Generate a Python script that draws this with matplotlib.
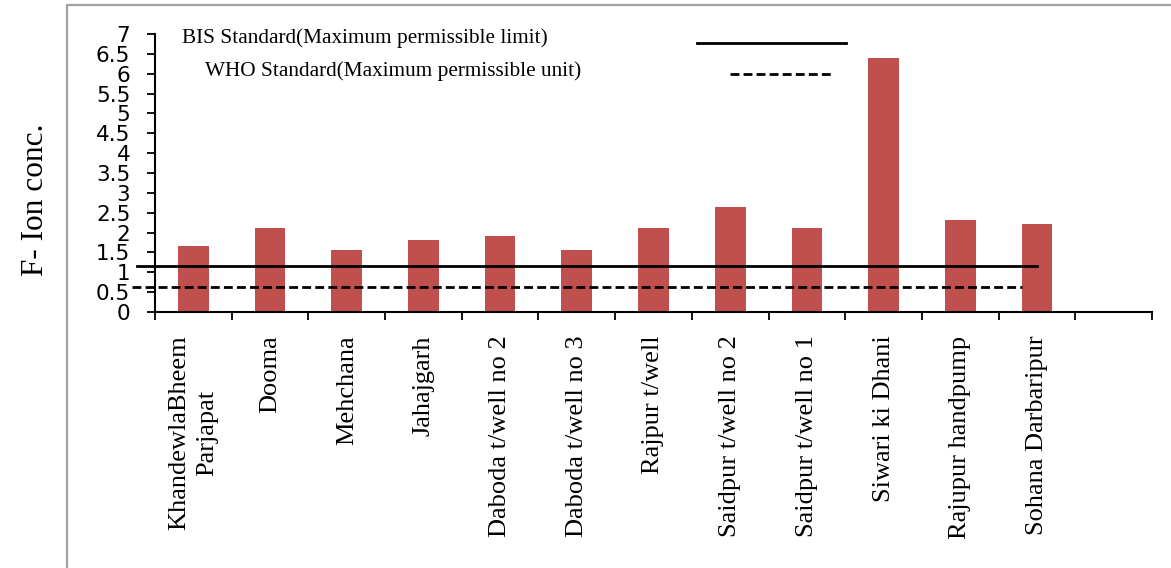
import matplotlib
matplotlib.use("Agg")
import matplotlib.pyplot as plt
import numpy as np
from matplotlib.lines import Line2D

categories = ["KhandewlaBheem\nParjapat", "Dooma", "Mehchana", "Jahajgarh",
              "Daboda t/well no 2", "Daboda t/well no 3", "Rajpur t/well",
              "Saidpur t/well no 2", "Saidpur t/well no 1", "Siwari ki Dhani",
              "Rajupur handpump", "Sohana Darbaripur"]
values = [1.66, 2.12, 1.56, 1.81, 1.91, 1.56, 2.12, 2.64, 2.12, 6.40, 2.32, 2.22]
yticks = [0, 0.5, 1, 1.5, 2, 2.5, 3, 3.5, 4, 4.5, 5, 5.5, 6, 6.5, 7]
ytick_labels = ["0", "0.5", "1", "1.5", "2", "2.5", "3", "3.5", "4", "4.5",
                "5", "5.5", "6", "6.5", "7"]
bis_value = 1.17
who_value = 0.64
bis_label = "BIS Standard(Maximum permissible limit)"
who_label = "WHO Standard(Maximum permissible unit)"
ylabel = "F- Ion conc."

W, H = 1171, 568
fig = plt.figure(figsize=(W / 100, H / 100), dpi=100)
fig.patch.set_facecolor("white")

ax = fig.add_axes([155 / W, 1 - 312 / H, (1152 - 155) / W, (312 - 34) / H])
n_slots = len(categories) + 1
x = np.arange(len(categories))
ax.bar(x, values, width=0.4, color="#C0504D", zorder=2)
ax.set_xlim(-0.5, n_slots - 0.5)
ax.set_ylim(0, 7)

for s in ["top", "right"]:
    ax.spines[s].set_visible(False)
for s in ["left", "bottom"]:
    ax.spines[s].set_linewidth(1.5)
    ax.spines[s].set_color("black")

ax.set_yticks(yticks)
ax.set_yticklabels(ytick_labels, fontfamily="DejaVu Sans", fontsize=15.5)
ax.tick_params(axis="y", direction="out", length=5.8, width=1.3, pad=12)

ax.set_xticks(np.arange(-0.5, n_slots), labels=[""] * (n_slots + 1))
ax.tick_params(axis="x", which="major", direction="out", length=5.8, width=1.3)
ax.set_xticks(x, minor=True)
ax.set_xticklabels(categories, minor=True, rotation=90, fontfamily="Liberation Serif",
                   fontsize=19, linespacing=1.35)
ax.tick_params(axis="x", which="minor", length=0, pad=17)

# reference lines
ax.axhline(bis_value, xmin=-0.018, xmax=0.8846, color="black", lw=2.0,
           clip_on=False, zorder=3)
ax.axhline(who_value, xmin=-0.023, xmax=0.8696, color="black", lw=2.0,
           ls=(0, (3.2, 1.5)), clip_on=False, zorder=3)

# legend (drawn as text + line samples)
fig.text(182 / W, 1 - 38 / H, bis_label, fontfamily="Liberation Serif", fontsize=15.3,
         va="center", ha="left")
fig.text(205 / W, 1 - 71 / H, who_label, fontfamily="Liberation Serif", fontsize=15.3,
         va="center", ha="left")
fig.add_artist(Line2D([697 / W, 846 / W], [1 - 42.7 / H, 1 - 42.7 / H],
                      transform=fig.transFigure, color="black", lw=2.0))
fig.add_artist(Line2D([730 / W, 834 / W], [1 - 74 / H, 1 - 74 / H],
                      transform=fig.transFigure, color="black", lw=2.0,
                      ls=(0, (3.2, 1.5))))

fig.text(36 / W, 1 - 200 / H, ylabel, rotation=90, fontfamily="Liberation Serif",
         fontsize=22.5, va="center", ha="center")

# chart-area border (left and top visible)
fig.add_artist(Line2D([67 / W, 67 / W, 1.0], [0, 1 - 5 / H, 1 - 5 / H],
                      transform=fig.transFigure, color="#a0a0a0", lw=1.6))

fig.savefig("out.png", dpi=100)
